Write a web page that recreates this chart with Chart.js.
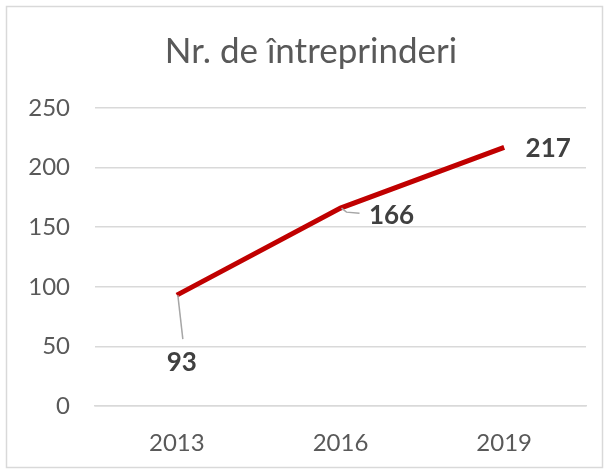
<!DOCTYPE html>
<html>
<head>
<meta charset="utf-8">
<script src="https://cdn.jsdelivr.net/npm/chart.js@4"></script>
<style>
  html, body { margin: 0; padding: 0; background: #fff; }
  #wrap { position: relative; width: 609px; height: 474px; }
</style>
</head>
<body>
<div id="wrap"><canvas id="myChart" width="609" height="474"></canvas></div>
<script>
document.addEventListener("DOMContentLoaded", function() {
let labels = ["2013", "2016", "2019"];
let itemData = [93, 166, 217];
let yTicks = [0, 50, 100, 150, 200, 250];

// where each value label sits relative to its point (px), and whether it gets a leader line
let labelOffsets = [[5, 67], [51, 7], [44, 1]];
let hasLeader = [true, true, false];

const FONT = "Lato, 'Open Sans', sans-serif";

const borderPlugin = {
    id: 'borderBox',
    beforeDraw(chart) {
        const ctx = chart.ctx;
        ctx.save();
        ctx.fillStyle = '#fff';
        ctx.fillRect(0, 0, chart.width, chart.height);
        ctx.strokeStyle = '#d9d9d9';
        ctx.lineWidth = 1.5;
        ctx.strokeRect(6.5, 6.5, chart.width - 13, chart.height - 13);
        ctx.restore();
    },
    afterLayout(chart) {
        // title is centred on the whole box, not on the plot
        if (chart.titleBlock) chart.titleBlock.left += 36;
    }
};

const valueLabels = {
    id: 'valueLabels',
    afterDatasetsDraw(chart) {
        const ctx = chart.ctx;
        const meta = chart.getDatasetMeta(0);
        ctx.save();
        meta.data.forEach(function(pt, i) {
            const off = labelOffsets[i];
            const lx = pt.x + off[0], ly = pt.y + off[1];
            if (hasLeader[i]) {
                ctx.strokeStyle = '#a6a6a6';
                ctx.lineWidth = 1.5;
                ctx.beginPath();
                ctx.moveTo(pt.x + 1, pt.y);
                if (i === 0) {
                    ctx.lineTo(lx + 1, ly - 23);
                } else {
                    ctx.lineTo(pt.x + 6, pt.y + 4);
                    ctx.lineTo(lx - 32, pt.y + 5);
                }
                ctx.stroke();
            }
            ctx.fillStyle = '#404040';
            ctx.font = 'bold 26px ' + FONT;
            ctx.textAlign = 'center';
            ctx.textBaseline = 'middle';
            ctx.fillText(String(itemData[i]), lx, ly);
        });
        ctx.restore();
    }
};

const data = {
    labels: labels,
    datasets: [{
        data: itemData,
        borderColor: '#C00000',
        backgroundColor: '#C00000',
        borderWidth: 5,
        pointRadius: 0,
        tension: 0
    }]
};

const config = {
    type: 'line',
    data: data,
    plugins: [borderPlugin, valueLabels],
    options: {
        responsive: false,
        animation: false,
        layout: { padding: { left: 0, right: 23, top: 0, bottom: 0 } },
        plugins: {
            legend: { display: false },
            tooltip: { enabled: false },
            title: {
                display: true,
                text: 'Nr. de întreprinderi',
                color: '#595959',
                font: { family: FONT, size: 35, weight: 'normal' },
                padding: { top: 31, bottom: 35 }
            }
        },
        scales: {
            x: {
                offset: true,
                grid: { display: false, drawTicks: false },
                border: { display: true, color: '#d9d9d9', width: 1.5 },
                ticks: { color: '#595959', font: { family: FONT, size: 24 }, padding: 23 },
                afterFit(scale) { scale.height = 68; }
            },
            y: {
                min: 0,
                max: 250,
                afterBuildTicks(scale) { scale.ticks = yTicks.map(v => ({ value: v })); },
                grid: { color: '#d9d9d9', lineWidth: 1.5, drawTicks: false },
                border: { display: false },
                ticks: { color: '#595959', font: { family: FONT, size: 24 }, padding: 25 },
                afterFit(scale) { scale.width = 95; }
            }
        }
    }
};

const chart = new Chart(document.getElementById('myChart'), config);
});
</script>
</body>
</html>
